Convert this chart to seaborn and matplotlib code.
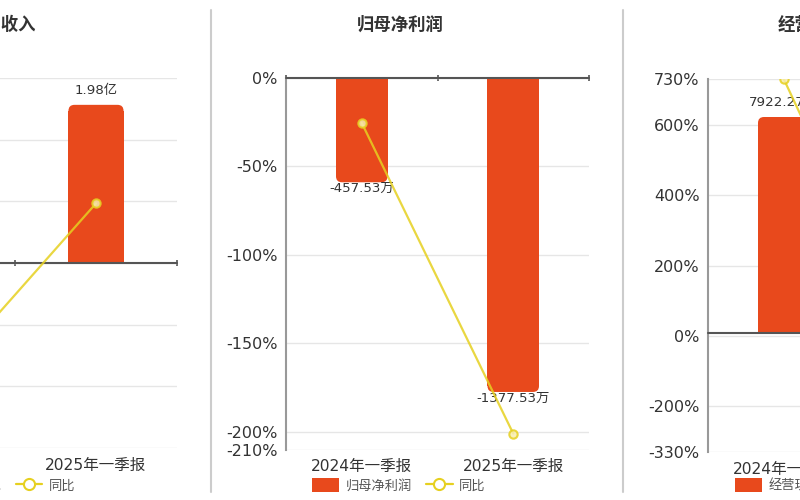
import seaborn as sns
import matplotlib.pyplot as plt
from matplotlib.patches import FancyBboxPatch, Patch
from matplotlib.lines import Line2D
from matplotlib.ticker import FuncFormatter

sns.set_style("white")
plt.rcParams['font.family'] = ['DejaVu Sans', 'Noto Sans CJK SC']

# data
quarters = ["2024年一季报", "2025年一季报"]

rev_vals = [1.54, 1.98]          # 亿
rev_labels = ["1.54亿", "1.98亿"]
rev_yoy = [-60.0, 29.0]          # %
rev_ticks = [90, 60, 30, 0, -30, -60, -90]

np_vals = [-457.53, -1377.53]    # 万
np_labels = ["-457.53万", "-1377.53万"]
np_yoy = [-25.4, -201.0]
np_ticks = [0, -50, -100, -150, -200, -210]

cf_vals = [7922.27, -1650.00]    # 万
cf_labels = ["7922.27万", "-1650.00万"]
cf_yoy = [730.0, -190.0]
cf_ticks = [730, 600, 400, 200, 0, -200, -330]

BAR = '#E8491C'
LINE = '#E6D020'
TXT = '#333333'
CJK = ['Noto Sans CJK SC', 'DejaVu Sans']
W, H = 800, 500

fig = plt.figure(figsize=(8, 5), dpi=100)
fig.patch.set_facecolor('white')


def px_axes(x0, x1, ytop, ybot):
    return fig.add_axes([x0 / W, 1 - ybot / H, (x1 - x0) / W, (ybot - ytop) / H])


def round_bars(ax, r_px=6):
    inv = ax.transData.inverted()
    (xa, ya), (xb, yb) = inv.transform([(0, 0), (r_px, r_px)])
    rx, ry = abs(xb - xa), abs(yb - ya)
    for p in list(ax.patches):
        x, w, h = p.get_x(), p.get_width(), p.get_height()
        s = 1 if h >= 0 else -1
        p.set_height(h - s * ry)
        y0 = h - 2 * ry if s > 0 else h
        tip = FancyBboxPatch((x, y0), w, 2 * ry,
                             boxstyle=f"round,pad=0,rounding_size={rx}",
                             mutation_aspect=ry / rx, fc=BAR, ec='none', lw=0, zorder=2)
        ax.add_patch(tip)


def panel(box, vals, labels, yoy, ticks, blim, title, title_x, name, legend_x, spine=True):
    axb = px_axes(*box)
    sns.barplot(x=quarters, y=vals, ax=axb, color=BAR, saturation=1, width=0.34,
                linewidth=0, zorder=2)
    axb.set_xlim(-0.5, 1.5)
    axb.set_ylim(*blim)
    plim = (min(ticks), max(ticks))
    grid = [blim[0] + (t - plim[0]) / (plim[1] - plim[0]) * (blim[1] - blim[0]) for t in ticks]
    axb.set_yticks(grid)
    axb.set_yticklabels([])
    axb.tick_params(axis='y', length=0)
    axb.grid(axis='y', color='#e6e6e6', lw=1, zorder=0)
    axb.set_axisbelow(True)
    axb.tick_params(axis='x', length=0, pad=7, labelsize=11.2, labelcolor=TXT)
    axb.set_xlabel('')
    axb.set_ylabel('')
    for sp in axb.spines.values():
        sp.set_visible(False)
    if spine:
        axb.spines['left'].set_visible(True)
        axb.spines['left'].set_color('#999999')
        axb.spines['left'].set_linewidth(1.5)
    axb.axhline(0, color='#555555', lw=1.5, zorder=4, clip_on=False)
    # small category boundary ticks on the zero line
    zf = (0 - blim[0]) / (blim[1] - blim[0])
    sec = axb.secondary_xaxis(zf)
    sec.set_xticks([-0.5, 0.5, 1.5])
    sec.set_xticklabels([])
    sec.tick_params(length=4, width=1.2, color='#555555', direction='inout')
    for sp in sec.spines.values():
        sp.set_visible(False)
    round_bars(axb)
    for i, (v, lab) in enumerate(zip(vals, labels)):
        if v >= 0:
            axb.annotate(lab, (i, v), xytext=(0, 6), textcoords='offset points',
                         ha='center', va='bottom', fontsize=9.6, color=TXT, zorder=5)
        else:
            axb.annotate(lab, (i, v), xytext=(0, 0), textcoords='offset points',
                         ha='center', va='top', fontsize=9.6, color=TXT, zorder=5)

    axl = axb.twinx()
    sns.lineplot(x=quarters, y=yoy, ax=axl, color=LINE, lw=1.6, alpha=0.85,
                 marker='o', markersize=6, markerfacecolor='#F7EDB0',
                 markeredgecolor=LINE, markeredgewidth=1.5)
    axl.set_xlim(-0.5, 1.5)
    axl.set_ylim(*plim)
    axl.yaxis.tick_left()
    axl.set_yticks(ticks)
    axl.yaxis.set_major_formatter(FuncFormatter(lambda v, p: f"{v:g}%"))
    axl.tick_params(axis='y', length=0, pad=6, labelsize=11.5, labelcolor=TXT)
    axl.set_ylabel('')
    axl.set_xlabel('')
    for sp in axl.spines.values():
        sp.set_visible(False)

    fig.text(title_x / W, 1 - 25 / H, title, ha='center', va='center',
             fontsize=12.5, fontweight='bold', color=TXT, family=CJK)
    handles = [Patch(fc=BAR, ec='none'),
               Line2D([], [], color=LINE, lw=1.6, marker='o', markersize=8,
                      markerfacecolor='white', markeredgecolor=LINE, markeredgewidth=1.5)]
    fig.legend(handles, [name, '同比'], loc='center', bbox_to_anchor=(legend_x / W, 1 - 485 / H),
               ncol=2, frameon=False, prop={'family': CJK, 'size': 9.5}, handlelength=2.0,
               handleheight=1.3, handletextpad=0.5, columnspacing=1.1, labelcolor='#555555')


panel((-147, 177, 78, 448), rev_vals, rev_labels, rev_yoy, rev_ticks, (-2.316, 2.316),
      "营业收入", 1, "营业收入", -5, spine=False)
panel((286, 589, 78, 449.5), np_vals, np_labels, np_yoy, np_ticks, (-1630, 0),
      "归母净利润", 400, "归母净利润", 399)
panel((708, 1011, 79, 452), cf_vals, cf_labels, cf_yoy, cf_ticks, (-4365, 9316),
      "经营现金流", 821, "经营现金流", 822)

for xd in (211, 623):
    fig.add_artist(Line2D([xd / W, xd / W], [1 - 10 / H, 1 - 492 / H], color='#cccccc', lw=1.5))

fig.savefig('out.png', dpi=100)
